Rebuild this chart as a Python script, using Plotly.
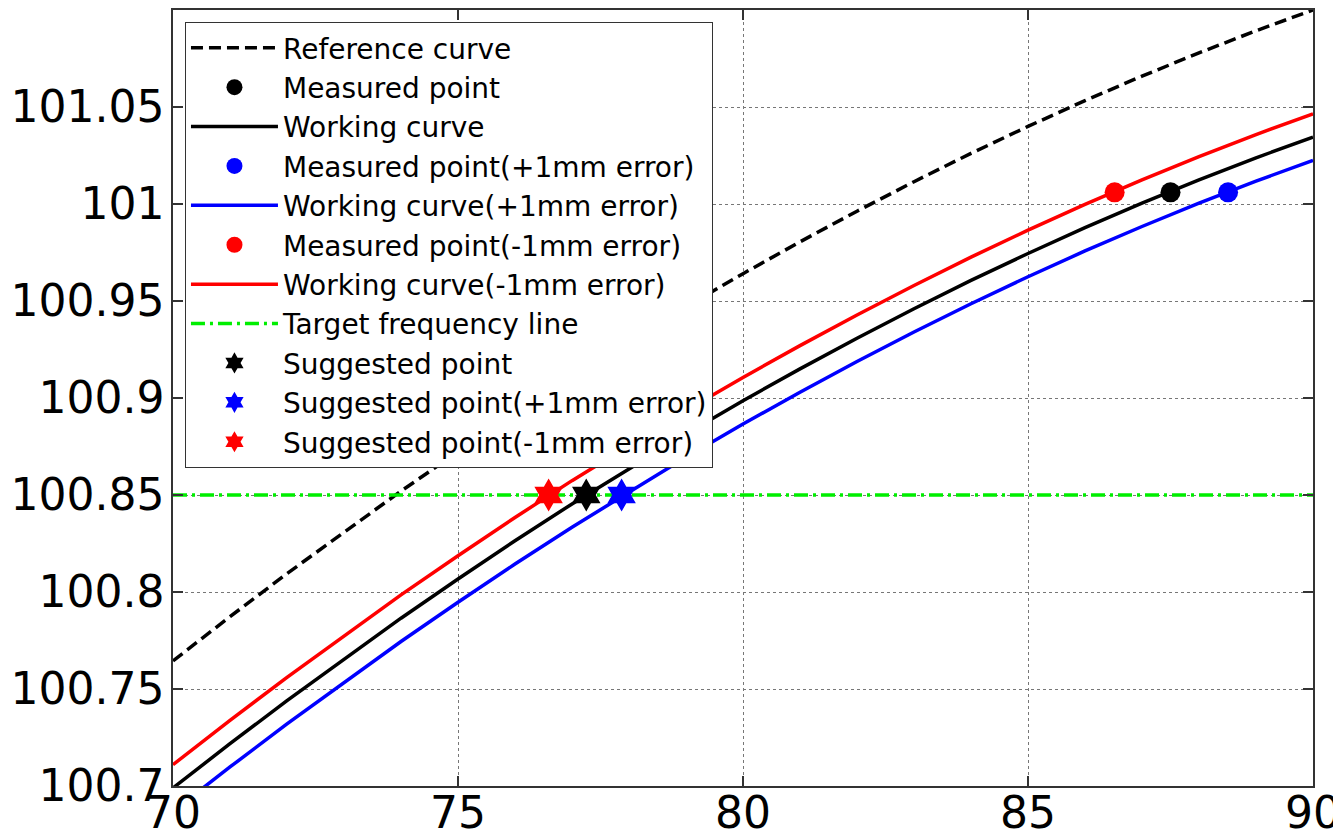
import plotly.graph_objects as go

x_vals = [70, 71, 72, 73, 74, 75, 76, 77, 78, 79, 80, 81, 82, 83, 84, 85, 86, 87, 88, 89, 90]

reference_curve = [100.7645, 100.7873, 100.8095, 100.8310, 100.8520, 100.8722, 100.8919, 100.9109,
                   100.9292, 100.9470, 100.9641, 100.9805, 100.9963, 101.0115, 101.0261, 101.0400,
                   101.0533, 101.0659, 101.0779, 101.0893, 101.1000]
working_curve = [100.6990, 100.7218, 100.7440, 100.7655, 100.7865, 100.8067, 100.8264, 100.8454,
                 100.8637, 100.8815, 100.8986, 100.9150, 100.9308, 100.9460, 100.9606, 100.9745,
                 100.9878, 101.0004, 101.0124, 101.0238, 101.0345]
working_plus = [100.6870, 100.7098, 100.7320, 100.7535, 100.7745, 100.7947, 100.8144, 100.8334,
                100.8517, 100.8695, 100.8866, 100.9030, 100.9188, 100.9340, 100.9486, 100.9625,
                100.9758, 100.9884, 101.0004, 101.0118, 101.0225]
working_minus = [100.7110, 100.7338, 100.7560, 100.7775, 100.7985, 100.8187, 100.8384, 100.8574,
                 100.8757, 100.8935, 100.9106, 100.9270, 100.9428, 100.9580, 100.9726, 100.9865,
                 100.9998, 101.0124, 101.0244, 101.0358, 101.0465]

target_freq = 100.85
measured_y = 101.006
measured_x = 87.5
measured_plus_x = 88.51
measured_minus_x = 86.52
suggested_x = 77.25
suggested_plus_x = 77.87
suggested_minus_x = 76.59

x_ticks = [70, 75, 80, 85, 90]
y_ticks = [100.7, 100.75, 100.8, 100.85, 100.9, 100.95, 101.0, 101.05]
y_ticktext = ["100.7", "100.75", "100.8", "100.85", "100.9", "100.95", "101", "101.05"]

FONT = "DejaVu Sans, Liberation Sans, Arial, sans-serif"
LW = 3.5

fig = go.Figure()
fig.add_trace(go.Scatter(x=x_vals, y=reference_curve, mode="lines", name="Reference curve",
                         line=dict(color="black", width=LW, dash="12px,6px")))
fig.add_trace(go.Scatter(x=[measured_x], y=[measured_y], mode="markers", name="Measured point",
                         marker=dict(color="black", size=20, symbol="circle")))
fig.add_trace(go.Scatter(x=x_vals, y=working_curve, mode="lines", name="Working curve",
                         line=dict(color="black", width=LW)))
fig.add_trace(go.Scatter(x=[measured_plus_x], y=[measured_y], mode="markers",
                         name="Measured point(+1mm error)",
                         marker=dict(color="blue", size=20, symbol="circle")))
fig.add_trace(go.Scatter(x=x_vals, y=working_plus, mode="lines", name="Working curve(+1mm error)",
                         line=dict(color="blue", width=LW)))
fig.add_trace(go.Scatter(x=[measured_minus_x], y=[measured_y], mode="markers",
                         name="Measured point(-1mm error)",
                         marker=dict(color="red", size=20, symbol="circle")))
fig.add_trace(go.Scatter(x=x_vals, y=working_minus, mode="lines", name="Working curve(-1mm error)",
                         line=dict(color="red", width=LW)))
fig.add_trace(go.Scatter(x=[x_ticks[0], x_ticks[-1]], y=[target_freq, target_freq], mode="lines",
                         name="Target frequency line",
                         line=dict(color="#00ee00", width=LW, dash="14px,5px,3px,5px")))
fig.add_trace(go.Scatter(x=[suggested_x], y=[target_freq], mode="markers", name="Suggested point",
                         marker=dict(color="black", size=25, symbol="hexagram")))
fig.add_trace(go.Scatter(x=[suggested_plus_x], y=[target_freq], mode="markers",
                         name="Suggested point(+1mm error)",
                         marker=dict(color="blue", size=25, symbol="hexagram")))
fig.add_trace(go.Scatter(x=[suggested_minus_x], y=[target_freq], mode="markers",
                         name="Suggested point(-1mm error)",
                         marker=dict(color="red", size=25, symbol="hexagram")))

axis_common = dict(
    showline=True, linecolor="#333333", linewidth=1.5, mirror="ticks",
    ticks="inside", ticklen=10, tickcolor="#333333", tickwidth=1.5,
    showgrid=True, gridcolor="#777777", griddash="dot", gridwidth=1,
    zeroline=False, automargin=False,
    tickfont=dict(family=FONT, size=44, color="black"),
)

fig.update_xaxes(range=[70, 90], tickvals=x_ticks, ticktext=[str(v) for v in x_ticks],
                 ticklabelstandoff=-13, **axis_common)
fig.update_yaxes(range=[100.7, 101.1], tickvals=y_ticks, ticktext=y_ticktext,
                 ticklabelstandoff=-2, **axis_common)

# the page places the figure 8px from its top-left corner
fig.update_layout(
    width=1333, height=826,
    margin=dict(l=165, r=28, t=2, b=48),
    paper_bgcolor="white", plot_bgcolor="white",
    font=dict(family=FONT, color="black"),
    showlegend=True,
    legend=dict(
        x=0.0105, y=0.9845, xanchor="left", yanchor="top",
        bgcolor="white", bordercolor="#333333", borderwidth=1,
        font=dict(family=FONT, size=28, color="black"),
        itemwidth=87, tracegroupgap=0,
    ),
)

fig.write_html("out.html")
